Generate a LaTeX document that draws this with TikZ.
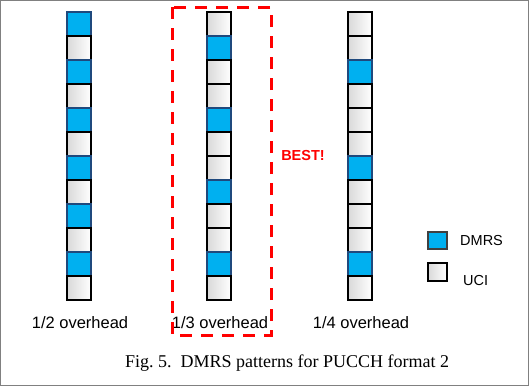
\documentclass[tikz,border=0pt]{standalone}
\usepackage{fontspec}
\setmainfont{Liberation Sans}
\newfontfamily\capfont{Liberation Serif}
\usepackage{xcolor}
\usepackage{tikz}
\usetikzlibrary{positioning}

\definecolor{dmrsblue}{HTML}{00B0F0}
\definecolor{dmrsedge}{HTML}{1F497D}
\tikzset{
  cellbox/.style={line width=1.6pt, minimum width=24pt, minimum height=24pt,
    inner sep=0pt, outer sep=0pt},
  cell/.style={cellbox, draw=black, left color=black!15, right color=white},
  dmrs/.style={cellbox, draw=dmrsedge, fill=dmrsblue},
  lbl/.style={font=\fontsize{16.5}{18}\selectfont, anchor=base, inner sep=0pt}
}

\begin{document}
\begin{tikzpicture}[x=1pt, y=-1pt]
                        \useasboundingbox (0,0) rectangle (529,386);
                        \draw[gray, line width=1pt] (0.5,0.5) rectangle (528.5,385.5);
                        % three columns of twelve symbols
                        \foreach \k in {1,...,12}{
                          \pgfmathtruncatemacro{\odd}{mod(\k,2)}
                          \ifnum\odd=1 \node[dmrs] (a\k) at (79,24*\k) {};
                          \else \node[cell] (a\k) at (79,24*\k) {}; \fi
                          \pgfmathtruncatemacro{\thr}{mod(\k,3)}
                          \ifnum\thr=2 \node[dmrs] (b\k) at (219,24*\k) {};
                          \else \node[cell] (b\k) at (219,24*\k) {}; \fi
                          \pgfmathtruncatemacro{\fou}{mod(\k,4)}
                          \ifnum\fou=3 \node[dmrs] (c\k) at (360,24*\k) {};
                          \else \node[cell] (c\k) at (360,24*\k) {}; \fi
                        }
                        \node[lbl] (halfL) at (80,328) {1/2 overhead};
                        \node[lbl] (thirdL) at (220,328) {1/3 overhead};
                        \node[lbl] (quarterL) at (361,328) {1/4 overhead};
                        % best pattern
                        \draw[red, line width=3pt, dash pattern=on 12pt off 9pt]
                        (172,7) rectangle (271,335);
                        \node[red, font=\bfseries\fontsize{14.5}{17}\selectfont, anchor=base,
                        inner sep=0pt] (best) at (303,160) {BEST!};
                        % legend
                        \node[dmrs, draw=black!75, minimum width=19pt, minimum height=17pt,
                        line width=1.4pt] (legD) at (437.5,240.5) {};
                        \node[cell, minimum width=19pt, minimum height=18pt,
                        line width=1.4pt] (legU) at (437.5,272) {};
                        \node[lbl, font=\fontsize{14.5}{17}\selectfont, anchor=base west]
                        (legDt) at (460,245) {DMRS};
                        \node[lbl, font=\fontsize{14.5}{17}\selectfont, anchor=base west]
                        (legUt) at (463,285) {UCI};
                        \node[font=\capfont\fontsize{18}{20}\selectfont, anchor=base,
                        inner sep=0pt] (caption) at (287,367)
                        {Fig.~5.\ \ DMRS patterns for PUCCH format 2};
                    \end{tikzpicture}
\end{document}
